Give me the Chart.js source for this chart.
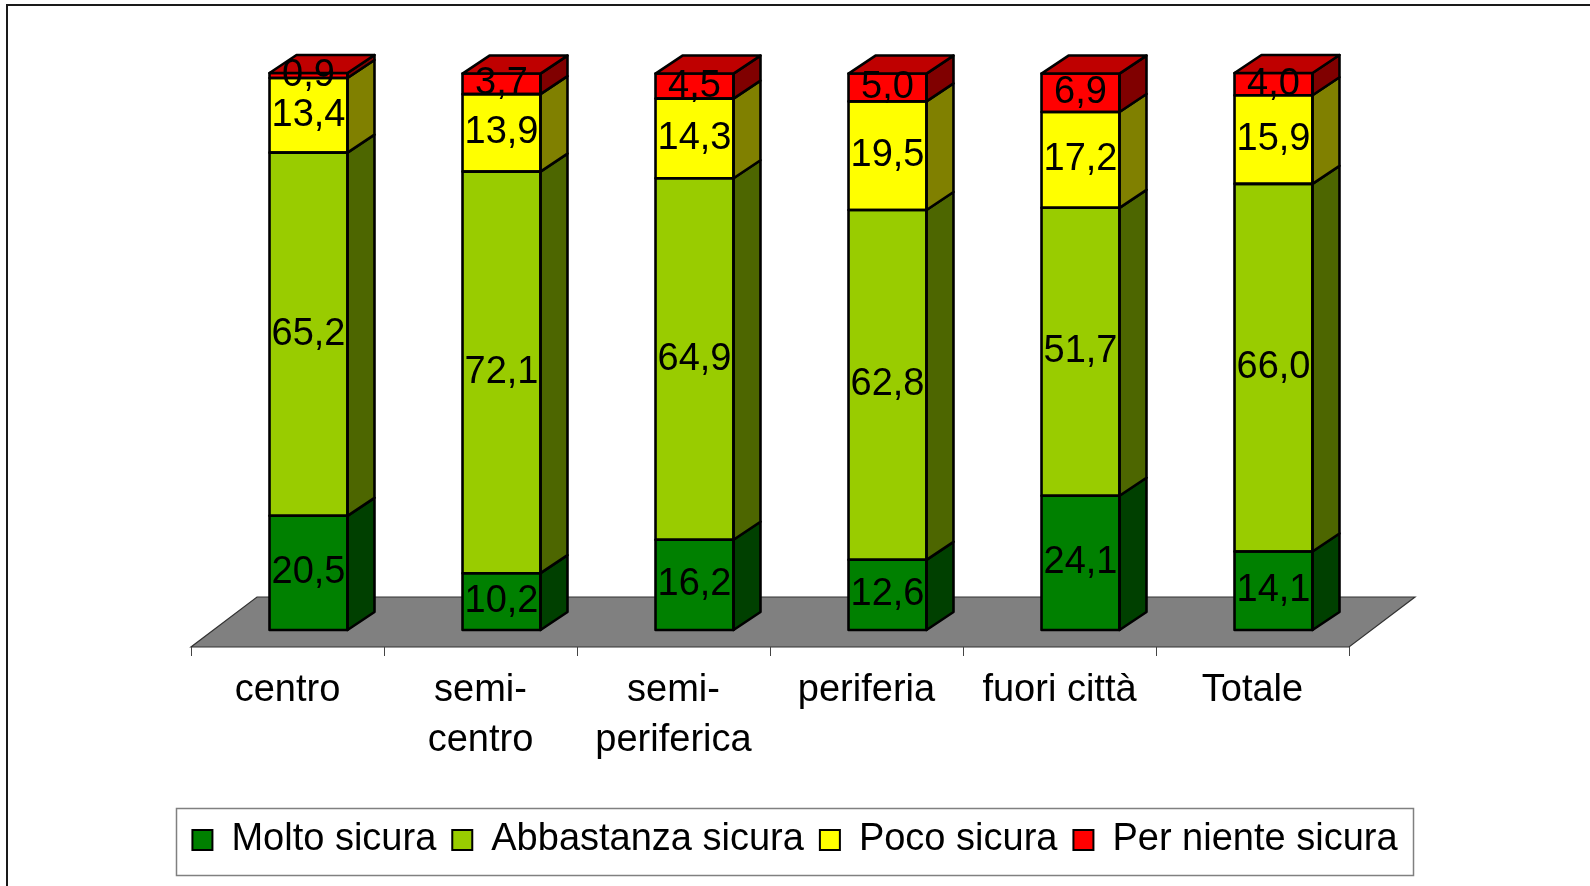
<!DOCTYPE html>
<html>
<head>
<meta charset="utf-8">
<title>Sicurezza percepita per zona</title>
<script src="https://cdn.jsdelivr.net/npm/chart.js@4.4.1/dist/chart.umd.min.js"></script>
<style>
  html,body{margin:0;padding:0;background:#fff;}
  #wrap{width:1590px;height:886px;position:relative;}
</style>
</head>
<body>
<div id="wrap"><canvas id="chart"></canvas></div>
<script>
/* ================= Data ================= */
const categories = ['centro', ['semi-','centro'], ['semi-','periferica'], 'periferia', 'fuori città', 'Totale'];
const seriesNames = ['Molto sicura', 'Abbastanza sicura', 'Poco sicura', 'Per niente sicura'];
const moltoSicura      = [20.5, 10.2, 16.2, 12.6, 24.1, 14.1];
const abbastanzaSicura = [65.2, 72.1, 64.9, 62.8, 51.7, 66.0];
const pocoSicura       = [13.4, 13.9, 14.3, 19.5, 17.2, 15.9];
const perNienteSicura  = [0.9, 3.7, 4.5, 5.0, 6.9, 4.0];
const colors = ['#008000', '#99CC00', '#FFFF00', '#FF0000'];

/* ================= 3D look ================= */
const DX = 27, DY = 18;              // bar depth
const FLOOR_DX = 66, FLOOR_DY = 50;  // floor depth
const SHIFT_X = 21, SHIFT_Y = 17;    // floor front edge vs bar front plane
const EDGE = 2.6;                    // outline width of the boxes
const FONT = "'Liberation Sans', Arial, sans-serif";

function shade(hex, f){
  const n = parseInt(hex.slice(1), 16);
  const r = Math.round(((n >> 16) & 255) * f);
  const g = Math.round(((n >> 8) & 255) * f);
  const b = Math.round((n & 255) * f);
  return `rgb(${r},${g},${b})`;
}

function poly(ctx, pts, fill, stroke, lw){
  ctx.beginPath();
  ctx.moveTo(pts[0][0], pts[0][1]);
  for(let i=1;i<pts.length;i++) ctx.lineTo(pts[i][0], pts[i][1]);
  ctx.closePath();
  if(fill){ ctx.fillStyle = fill; ctx.fill(); }
  if(stroke){ ctx.strokeStyle = stroke; ctx.lineWidth = lw; ctx.stroke(); }
}

const floorPlugin = {
  id: 'floor',
  beforeDatasetsDraw(chart){
    const {ctx, chartArea: a} = chart;
    const xs = chart.scales.x;
    const fy = a.bottom + SHIFT_Y;
    const x0 = a.left - SHIFT_X, x1 = a.right - SHIFT_X;
    ctx.save();
    poly(ctx, [[x0,fy],[x1,fy],[x1+FLOOR_DX,fy-FLOOR_DY],[x0+FLOOR_DX,fy-FLOOR_DY]], '#808080', '#333', 1.2);
    ctx.strokeStyle = '#444';
    ctx.lineWidth = 1;
    ctx.beginPath();
    for(let i=0;i<=categories.length;i++){
      const x = Math.round(xs.getPixelForValue(i - 0.5) - SHIFT_X) + 0.5;
      ctx.moveTo(x, fy);
      ctx.lineTo(x, fy + 9);
    }
    ctx.stroke();
    ctx.restore();
  }
};

const boxPlugin = {
  id: 'box3d',
  afterDatasetsDraw(chart){
    const ctx = chart.ctx;
    const n = chart.data.datasets.length;
    ctx.save();
    ctx.lineJoin = 'round';
    const labels = [];
    chart.data.datasets.forEach((ds, di) => {
      const meta = chart.getDatasetMeta(di);
      const c = ds.backgroundColor;
      meta.data.forEach((el, j) => {
        const p = el.getProps(['x','y','base','width'], true);
        const l = p.x - p.width/2, r = p.x + p.width/2;
        const t = Math.min(p.y, p.base), b = Math.max(p.y, p.base);
        poly(ctx, [[r,t],[r+DX,t-DY],[r+DX,b-DY],[r,b]], shade(c, 0.5), '#000', EDGE);
        poly(ctx, [[l,t],[r,t],[r,b],[l,b]], null, '#000', EDGE);
        if(di === n - 1){
          poly(ctx, [[l,t],[l+DX,t-DY],[r+DX,t-DY],[r,t]], shade(c, 0.75), '#000', EDGE);
        }
        labels.push([ds.data[j].toFixed(1).replace('.', ','), p.x, (t + b) / 2]);
      });
    });
    ctx.fillStyle = '#000';
    ctx.font = '38px ' + FONT;
    ctx.textAlign = 'center';
    ctx.textBaseline = 'middle';
    labels.forEach(([txt, x, y]) => ctx.fillText(txt, x, y));
    ctx.restore();
  }
};

const framePlugin = {
  id: 'frame',
  afterDraw(chart){
    const ctx = chart.ctx;
    ctx.save();
    // outer border of the chart object
    ctx.strokeStyle = '#1a1a1a';
    ctx.lineWidth = 2;
    ctx.strokeRect(7, 5, chart.width + 20, chart.height + 20);
    // legend frame
    const lg = chart.legend;
    if(lg && lg.legendHitBoxes.length){
      const hb = lg.legendHitBoxes;
      const left = Math.min(...hb.map(h => h.left)) - 16;
      const right = Math.max(...hb.map(h => h.left + h.width)) + 16;
      const cy = hb[0].top + hb[0].height / 2;
      ctx.strokeStyle = '#808080';
      ctx.lineWidth = 1.5;
      ctx.strokeRect(Math.round(left) + 0.5, Math.round(cy - 32) + 0.5, Math.round(right - left), 67);
    }
    ctx.restore();
  }
};

/* ================= Chart ================= */
Chart.defaults.font.family = FONT;
Chart.defaults.color = '#000';

const seriesValues = [moltoSicura, abbastanzaSicura, pocoSicura, perNienteSicura];

const hiddenAxis = (pos, w) => ({
  position: pos,
  display: true,
  grid: {display: false, drawTicks: false},
  border: {display: false},
  ticks: {display: false},
  afterFit: s => { s.width = w; }
});

new Chart(document.getElementById('chart'), {
  type: 'bar',
  data: {
    labels: categories,
    datasets: seriesNames.map((name, i) => ({
      label: name,
      data: seriesValues[i],
      backgroundColor: colors[i],
      borderWidth: 0,
      categoryPercentage: 1,
      barPercentage: 0.404
    }))
  },
  options: {
    responsive: true,
    maintainAspectRatio: false,
    animation: false,
    devicePixelRatio: 1,
    layout: {padding: {top: 73, bottom: 17, left: 0, right: 0}},
    plugins: {
      tooltip: {enabled: false},
      legend: {
        position: 'bottom',
        labels: {
          font: {size: 38},
          boxWidth: 20,
          boxHeight: 20,
          padding: 16,
          color: '#000',
          generateLabels: chart => Chart.defaults.plugins.legend.labels.generateLabels(chart)
            .map(it => Object.assign(it, {lineWidth: 2, strokeStyle: '#000'}))
        }
      }
    },
    scales: {
      x: {
        stacked: true,
        grid: {display: false, drawTicks: false},
        border: {display: false},
        ticks: {
          font: {size: 38, lineHeight: 1.32},
          color: '#000',
          padding: 35,
          labelOffset: -SHIFT_X,
          maxRotation: 0,
          autoSkip: false
        },
        afterFit: s => { s.height = 175; }
      },
      y: Object.assign(hiddenAxis('left', 212), {stacked: true, min: 0, max: 100}),
      yR: hiddenAxis('right', 220)
    }
  },
  plugins: [floorPlugin, boxPlugin, framePlugin]
});
</script>
</body>
</html>
